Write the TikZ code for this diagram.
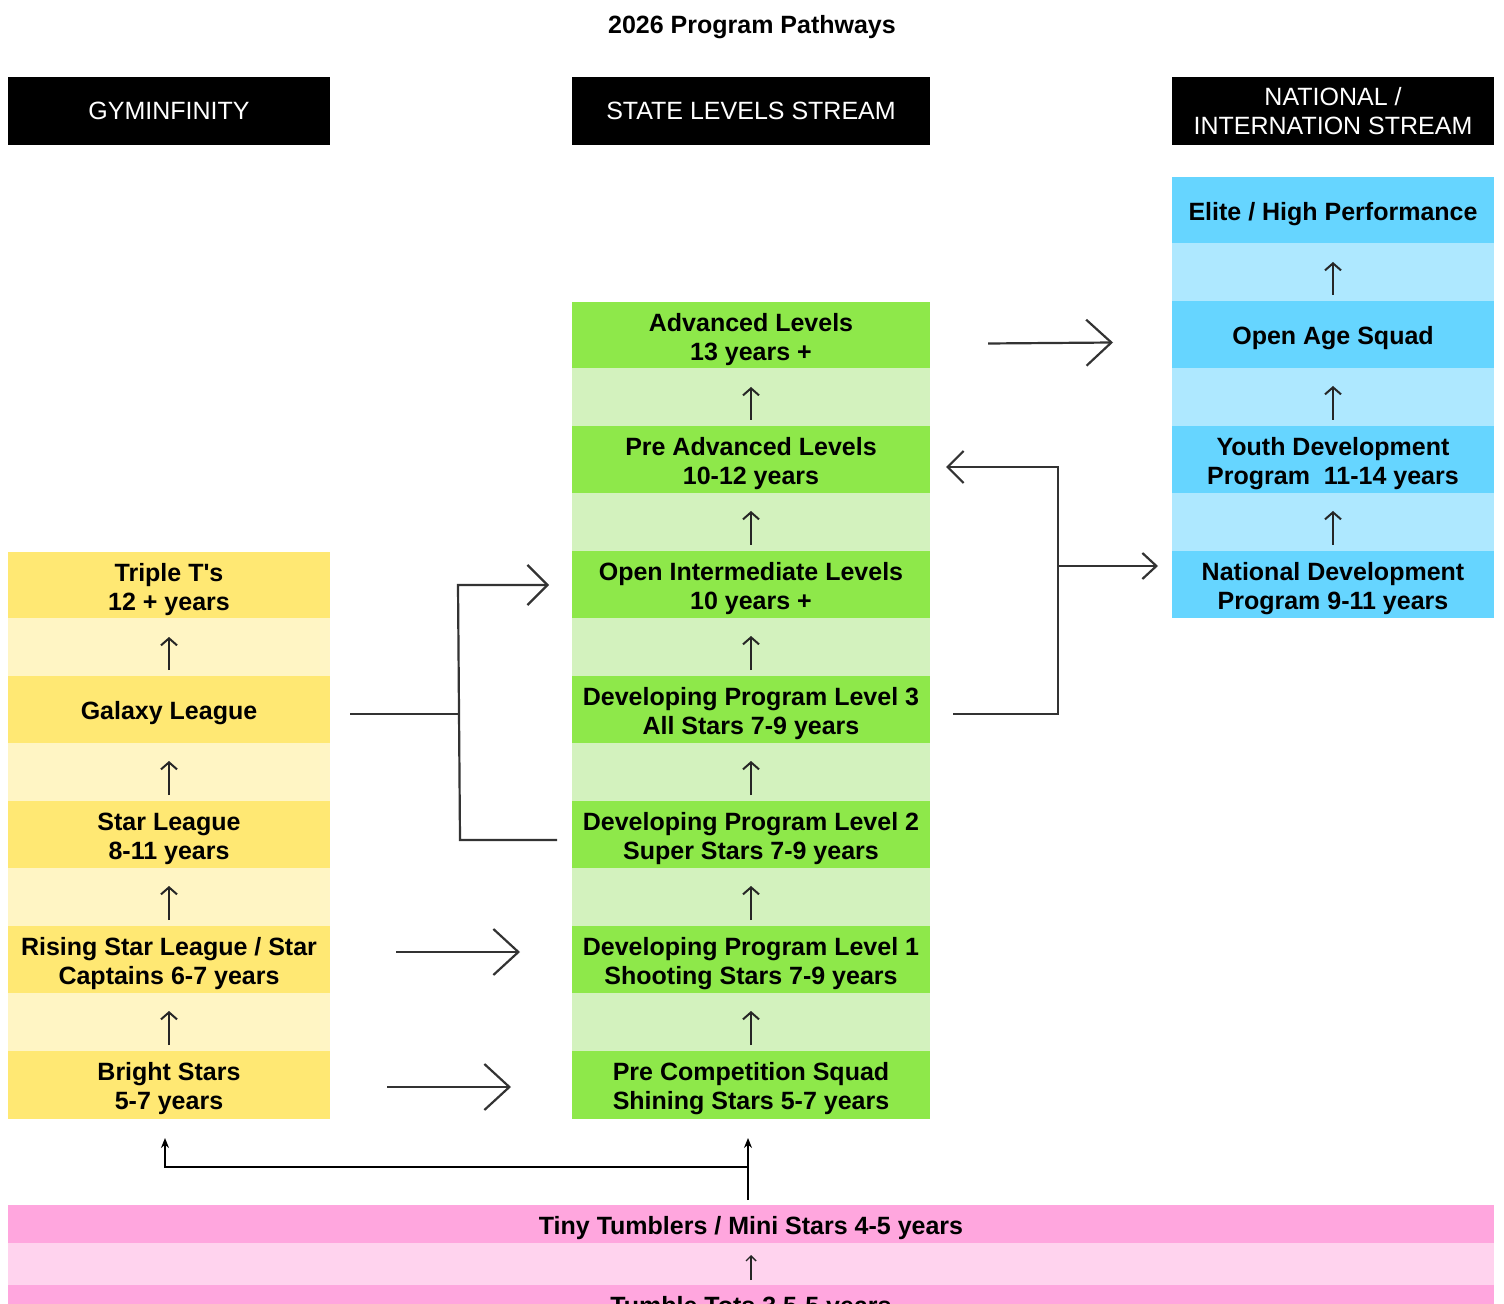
\documentclass[tikz,border=0pt]{standalone}
\usepackage{fontspec}
\setmainfont{Liberation Sans}
\usetikzlibrary{arrows.meta}
\definecolor{ydk}{HTML}{FFE873}
\definecolor{ylt}{HTML}{FFF5C4}
\definecolor{gdk}{HTML}{8EE84A}
\definecolor{glt}{HTML}{D3F2BE}
\definecolor{bdk}{HTML}{66D5FF}
\definecolor{blt}{HTML}{AEE8FF}
\definecolor{pdk}{HTML}{FFA6DE}
\definecolor{plt}{HTML}{FFD3EE}
\definecolor{lncol}{HTML}{333333}
\begin{document}
\begin{tikzpicture}[x=0.5pt,y=-0.5pt,
  box/.style={rectangle, inner sep=0pt, outer sep=0pt, anchor=north west},
  lbl/.style={inner sep=0pt, align=center, yshift=-2pt,
    font=\fontsize{12.5}{14.5}\selectfont\bfseries, text=black},
  txt/.style={label={[lbl]center:{#1}}},
  hdr/.style={box, align=center, fill=black, text=white, minimum height=34pt, font=\fontsize{12.5}{14.5}\selectfont},
  dk/.style={box, minimum height=33.5pt},
  lt/.style={box, minimum height=29pt},
  wl/.style={minimum width=161pt},
  wm/.style={minimum width=179pt},
  conn/.style={draw=lncol, line width=1.1pt},
  uparr/.style={draw=black!85, line width=1pt, shorten <=3pt, shorten >=9pt,
    -{Straight Barb[length=3.5pt,width=8pt,line width=1pt]}},
  barbL/.style={-{Straight Barb[length=12.5pt,width=23pt,line width=1.1pt]}},
  barbM/.style={-{Straight Barb[length=10pt,width=20pt,line width=1.1pt]}},
  barbS/.style={-{Straight Barb[length=8pt,width=16pt,line width=1.1pt]}},
  barbT/.style={-{Straight Barb[length=7pt,width=13pt,line width=1.1pt]}},
  tiny/.style={-{Stealth[length=5pt,width=4pt]}}
]
\useasboundingbox (0,0) rectangle (1504,1304);

% title
\node[font=\fontsize{12.5}{14.5}\selectfont\bfseries] (title) at (752,27) {2026 Program Pathways};

% headers
\node[hdr, wl] (h1) at (8,77) {GYMINFINITY};
\node[hdr, wm] (h2) at (572,77) {STATE LEVELS STREAM};
\node[hdr, wl] (h3) at (1172,77) {NATIONAL /\\INTERNATION STREAM};

% left column (Gyminfinity)
\node[dk, wl, fill=ydk, txt={Triple T\textquotesingle s\\12 + years}] (tt12) at (8,552) {};
\node[lt, wl, fill=ylt] (ya1) at (8,618) {};
\node[dk, wl, fill=ydk, txt={Galaxy League}] (gal) at (8,676) {};
\node[lt, wl, fill=ylt] (ya2) at (8,743) {};
\node[dk, wl, fill=ydk, txt={Star League\\8-11 years}] (star) at (8,801) {};
\node[lt, wl, fill=ylt] (ya3) at (8,868) {};
\node[dk, wl, fill=ydk, txt={Rising Star League / Star\\Captains 6-7 years}] (ris) at (8,926) {};
\node[lt, wl, fill=ylt] (ya4) at (8,993) {};
\node[dk, wl, fill=ydk, minimum height=34pt, txt={Bright Stars\\5-7 years}] (bs) at (8,1051) {};

% middle column (State levels)
\node[dk, wm, fill=gdk, txt={Advanced Levels\\13 years +}] (adv) at (572,302) {};
\node[lt, wm, fill=glt] (ga1) at (572,368) {};
\node[dk, wm, fill=gdk, txt={Pre Advanced Levels\\10-12 years}] (preadv) at (572,426) {};
\node[lt, wm, fill=glt] (ga2) at (572,493) {};
\node[dk, wm, fill=gdk, txt={Open Intermediate Levels\\10 years +}] (oi) at (572,551) {};
\node[lt, wm, fill=glt] (ga3) at (572,618) {};
\node[dk, wm, fill=gdk, txt={Developing Program Level 3\\All Stars 7-9 years}] (dl3) at (572,676) {};
\node[lt, wm, fill=glt] (ga4) at (572,743) {};
\node[dk, wm, fill=gdk, txt={Developing Program Level 2\\Super Stars 7-9 years}] (dl2) at (572,801) {};
\node[lt, wm, fill=glt] (ga5) at (572,868) {};
\node[dk, wm, fill=gdk, txt={Developing Program Level 1\\Shooting Stars 7-9 years}] (dl1) at (572,926) {};
\node[lt, wm, fill=glt] (ga6) at (572,993) {};
\node[dk, wm, fill=gdk, minimum height=34pt, txt={Pre Competition Squad\\Shining Stars 5-7 years}] (pcs) at (572,1051) {};

% right column (National)
\node[dk, wl, fill=bdk, txt={Elite / High Performance}] (elite) at (1172,177) {};
\node[lt, wl, fill=blt] (ba1) at (1172,243) {};
\node[dk, wl, fill=bdk, txt={Open Age Squad}] (oas) at (1172,301) {};
\node[lt, wl, fill=blt] (ba2) at (1172,368) {};
\node[dk, wl, fill=bdk, txt={Youth Development\\Program\ \ 11-14 years}] (ydp) at (1172,426) {};
\node[lt, wl, fill=blt] (ba3) at (1172,493) {};
\node[dk, wl, fill=bdk, txt={National Development\\Program 9-11 years}] (ndp) at (1172,551) {};

% bottom (pink)
\node[box, minimum width=743pt, minimum height=19pt, fill=pdk, txt={Tiny Tumblers / Mini Stars 4-5 years}] (tiny) at (8,1205) {};
\node[box, minimum width=743pt, minimum height=21pt, fill=plt] (pa1) at (8,1243) {};
\node[box, minimum width=743pt, minimum height=19pt, fill=pdk, txt={Tumble Tots 3.5-5 years}] (tots) at (8,1285) {};

% small upward arrows inside the light bands
\draw[uparr] (gal.north) -- (tt12.south);
\draw[uparr] (star.north) -- (gal.south);
\draw[uparr] (ris.north) -- (star.south);
\draw[uparr] (bs.north) -- (ris.south);
\draw[uparr] (preadv.north) -- (adv.south);
\draw[uparr] (oi.north) -- (preadv.south);
\draw[uparr] (dl3.north) -- (oi.south);
\draw[uparr] (dl2.north) -- (dl3.south);
\draw[uparr] (dl1.north) -- (dl2.south);
\draw[uparr] (pcs.north) -- (dl1.south);
\draw[uparr] (oas.north) -- (elite.south);
\draw[uparr] (ydp.north) -- (oas.south);
\draw[uparr] (ndp.north) -- (ydp.south);
\draw[uparr, line width=0.7pt, shorten <=2.5pt, shorten >=6pt,
  -{Straight Barb[length=2.5pt,width=5pt,line width=0.7pt]}] (tots.north) -- (tiny.south);

% connectors
\draw[conn, barbL] ([xshift=29pt,yshift=-4pt]adv.east) -- ([xshift=-29.5pt,yshift=-4pt]oas.west);

\draw[conn, barbS] ([xshift=11.5pt,yshift=-2.25pt]dl3.east) -- (1058,714) -- (1058,467) -- ([xshift=8pt,yshift=-3.75pt]preadv.east);
\draw[conn, barbT] (1058,566) -- ([xshift=-7pt,yshift=9.25pt]ndp.west);

\draw[conn] ([xshift=10pt,yshift=-2.25pt]gal.east) -- (459,714);
\draw[conn, barbM] ([xshift=-7.5pt,yshift=-2.75pt]dl2.west) -- (460,840) -- (458,585) -- ([xshift=-11.5pt,yshift=-0.25pt]oi.west);

\draw[conn, barbL] ([xshift=33pt,yshift=3.75pt]ris.east) -- ([xshift=-26pt,yshift=3.75pt]dl1.west);
\draw[conn, barbL] ([xshift=28.5pt,yshift=-1pt]bs.east) -- ([xshift=-30.5pt,yshift=-1pt]pcs.west);

\draw[draw=black, line width=0.7pt, tiny] ([xshift=-1.5pt,yshift=2.5pt]tiny.north) -- (748,1167) -- ([xshift=-1.5pt,yshift=-9.5pt]pcs.south);
\draw[draw=black, line width=1.3pt, tiny] (748,1167) -- (165,1167) -- ([xshift=-2pt,yshift=-9.5pt]bs.south);
\end{tikzpicture}
\end{document}
